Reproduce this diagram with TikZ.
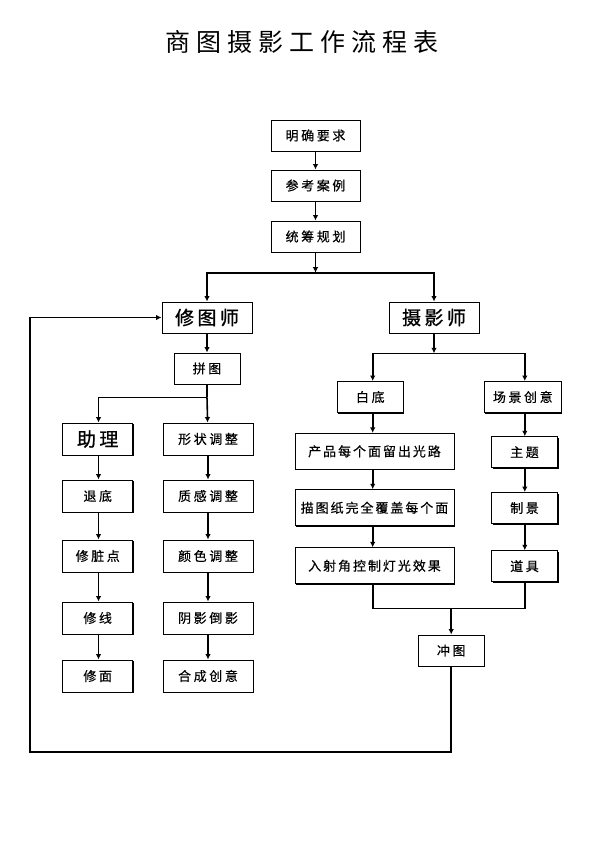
\documentclass[tikz,border=0pt]{standalone}
\usepackage{fontspec}
\setmainfont{Noto Sans CJK SC}
\newfontfamily\cjk[LetterSpace=20,FakeBold=0.4]{Noto Sans CJK SC}
\newfontfamily\cjkl[LetterSpace=15,FakeBold=0.4]{Noto Sans CJK SC}
\newfontfamily\cjkb[LetterSpace=18,FakeBold=1]{Noto Sans CJK SC}
\newfontfamily\cjkt[LetterSpace=24]{Noto Sans CJK SC}
\usetikzlibrary{arrows.meta,shadows}
\tikzset{
  box/.style={draw, line width=0.9pt, fill=white, inner sep=0pt,
    general shadow={shadow xshift=1.1pt, shadow yshift=-1.1pt, fill=black},
    font=\cjk\fontsize{13}{15}\selectfont},
  longbox/.style={box, minimum width=159pt, minimum height=36pt, font=\cjkl\fontsize{13}{15}\selectfont},
  bigbox/.style={box, font=\cjkb\fontsize{19}{21}\selectfont},
  conn/.style={line width=1.6pt},
  arr/.style={conn, -{Latex[length=5.5pt,width=5.5pt]}},
}
\begin{document}
\begin{tikzpicture}[x=1pt,y=-1pt]
\useasboundingbox (0,0) rectangle (595,842);
\fill[white] (0,0) rectangle (595,842);
\node (title) at (302,41.7) {\cjkt\fontsize{25}{28}\selectfont 商图摄影工作流程表};

% top chain
\node[box, minimum width=89pt, minimum height=31pt] (n1) at (315.5,135.5) {明确要求};
\node[box, minimum width=89pt, minimum height=31pt] (n2) at (315.5,185.5) {参考案例};
\node[box, minimum width=89pt, minimum height=31pt] (n3) at (315.5,236.5) {统筹规划};
\node[bigbox, minimum width=90pt, minimum height=31pt] (xiu) at (207,317.5) {修图师};
\node[bigbox, minimum width=90pt, minimum height=31pt] (she) at (434,317.5) {摄影师};

% left part
\node[box, minimum width=66pt, minimum height=31pt] (pin) at (207,368.5) {拼图};
\node[bigbox, minimum width=70pt, minimum height=32pt] (zhu) at (97.7,439) {助理};
\node[box, minimum width=70pt, minimum height=32pt] (tui) at (97.7,496) {退底};
\node[box, minimum width=70pt, minimum height=32pt] (zang) at (97.7,556) {修脏点};
\node[box, minimum width=70pt, minimum height=32pt] (xian) at (97.7,618) {修线};
\node[box, minimum width=70pt, minimum height=32pt] (mian) at (97.7,676) {修面};
\node[box, minimum width=90pt, minimum height=32pt] (xz) at (208,439) {形状调整};
\node[box, minimum width=90pt, minimum height=32pt] (zg) at (208,496) {质感调整};
\node[box, minimum width=90pt, minimum height=32pt] (ys) at (208,556) {颜色调整};
\node[box, minimum width=90pt, minimum height=32pt] (yy) at (208,618) {阴影倒影};
\node[box, minimum width=90pt, minimum height=32pt] (hc) at (208,676) {合成创意};

% right part
\node[box, minimum width=66pt, minimum height=31pt] (bai) at (370.3,397) {白底};
\node[box, minimum width=77pt, minimum height=31pt] (cj) at (522.8,397) {场景创意};
\node[longbox] (p1) at (374.5,451.3) {产品每个面留出光路};
\node[longbox] (p2) at (374.5,507.7) {描图纸完全覆盖每个面};
\node[longbox] (p3) at (374.5,565.8) {入射角控制灯光效果};
\node[box, minimum width=66pt, minimum height=31pt] (zt) at (524.5,452.2) {主题};
\node[box, minimum width=66pt, minimum height=31pt] (zj) at (524.5,508) {制景};
\node[box, minimum width=66pt, minimum height=31pt] (dj) at (524.5,566.2) {道具};
\node[box, minimum width=66pt, minimum height=31pt] (chong) at (451.2,650.5) {冲图};

% coordinates
\coordinate (s1) at (315.5,272.7);
\coordinate (b1) at (207,397.3);
\coordinate (b2) at (434,353.3);
\coordinate (m) at (451.2,608.3);
\coordinate (l2) at (30,751.7);
\coordinate (cx) at (372.7,0);
\coordinate (rx) at (524.8,0);
\coordinate (lx) at (98.5,0);

% connectors
\draw[arr] (n1) -- (n2);
\draw[arr] (n2) -- (n3);
\draw[arr] (n3) -- (s1);
\draw[arr] (s1) -| (xiu);
\draw[arr] (s1) -| (she);
\draw[arr] (xiu) -- (pin);
\draw[conn] (pin) -- (b1);
\draw[arr] (b1) -| (zhu.north -| lx);
\draw[arr] (b1) -- (xz);
\draw[arr] (zhu.south -| lx) -- (tui.north -| lx);
\draw[arr] (tui.south -| lx) -- (zang.north -| lx);
\draw[arr] (zang.south -| lx) -- (xian.north -| lx);
\draw[arr] (xian.south -| lx) -- (mian.north -| lx);
\draw[arr] (xz) -- (zg);
\draw[arr] (zg) -- (ys);
\draw[arr] (ys) -- (yy);
\draw[arr] (yy) -- (hc);
\draw[arr] (she) -- (b2);
\draw[arr] (b2) -| (bai.north -| cx);
\draw[arr] (b2) -| (cj.north -| rx);
\draw[arr] (bai.south -| cx) -- (p1.north -| cx);
\draw[arr] (p1.south -| cx) -- (p2.north -| cx);
\draw[arr] (p2.south -| cx) -- (p3.north -| cx);
\draw[arr] (cj.south -| rx) -- (zt.north -| rx);
\draw[arr] (zt.south -| rx) -- (zj.north -| rx);
\draw[arr] (zj.south -| rx) -- (dj.north -| rx);
\draw[conn] (p3.south -| cx) |- (m) -| (dj.south -| rx);
\draw[arr] (m) -- (chong);
\draw[arr] (chong.south) |- (l2) |- (xiu.west);
\end{tikzpicture}
\end{document}
